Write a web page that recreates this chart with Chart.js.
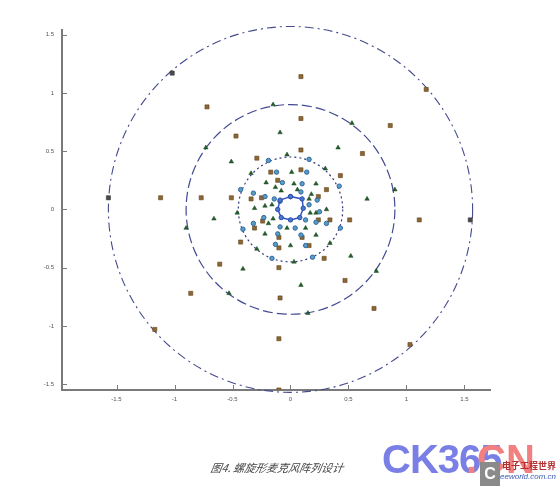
<!DOCTYPE html>
<html><head><meta charset="utf-8">
<script src="https://cdn.jsdelivr.net/npm/chart.js@4"></script>
<style>
html,body{margin:0;padding:0;background:#fff;}
#wrap{position:relative;width:560px;height:491px;overflow:hidden;}
canvas{position:absolute;left:0;top:0;}
.cap{position:absolute;left:211px;top:459px;font-family:"Noto Sans CJK SC",sans-serif;font-style:italic;font-size:11px;color:#444;transform:skewX(-10deg);}
.wm1{position:absolute;left:382px;top:437px;font-family:"Liberation Sans",Arial,sans-serif;font-weight:bold;font-size:40px;color:#7a7fe6;letter-spacing:-1px;}
.wm2{position:absolute;left:466px;top:437px;font-family:"Liberation Sans",Arial,sans-serif;font-weight:bold;font-size:40px;color:#f28080;}
.wm3{position:absolute;left:502px;top:459px;font-family:"Noto Sans CJK SC",serif;font-size:9px;color:#b03030;font-weight:bold;}
.wm4{position:absolute;left:500px;top:472px;font-family:"Liberation Sans",sans-serif;font-style:italic;font-size:8px;color:#3a5ab0;}
.wmlogo{position:absolute;left:480px;top:462px;width:20px;height:24px;background:#8a8a8a;color:#fff;font:bold 16px "Liberation Sans",sans-serif;text-align:center;line-height:24px;}
</style></head>
<body><div id="wrap"><canvas id="c" width="560" height="491"></canvas>
<div class="cap">图4. 螺旋形麦克风阵列设计</div>
<div class="wm1">CK365</div><div class="wm2">.CN</div>
<div class="wmlogo">C</div><div class="wm3">电子工程世界</div><div class="wm4">eeworld.com.cn</div>
</div>
<script>
const xTicks = [-1.5,-1,-0.5,0,0.5,1,1.5];
const yTicks = [-1.5,-1,-0.5,0,0.5,1,1.5];
const ringRadii = [1.57, 0.90, 0.45];

const brownSquares = [
 [0.09,1.14],[-0.72,0.88],[0.86,0.72],[0.09,0.78],[-0.47,0.63],[-1.12,0.10],[-0.77,0.10],
 [-0.61,-0.47],[-0.86,-0.72],[-0.09,-0.76],[0.72,-0.85],[-0.10,-1.11],[0.47,-0.61],[1.11,-0.09],
 [0.09,0.51],[0.62,0.48],[0.43,0.29],[0.31,0.17],[-0.29,0.44],[-0.17,0.32],[0.09,0.34],[-0.11,0.25],
 [-0.51,0.10],[-0.34,0.09],[-0.25,0.10],[0.24,0.11],[0.51,-0.09],[0.34,-0.09],[0.24,-0.09],
 [-0.24,-0.10],[-0.31,-0.16],[-0.43,-0.28],[-0.10,-0.24],[0.10,-0.24],[-0.10,-0.33],[0.16,-0.31],
 [0.29,-0.42],[-0.10,-0.50],
 [1.17,1.03],[-1.17,-1.03],[-0.10,-1.55],[1.03,-1.16]
];
const darkPoints = [[0.09,1.57],[-1.02,1.17],[-1.57,0.10],[1.55,-0.09]];
const greenTriangles = [
 [-0.09,0.66],[0.41,0.53],[-0.51,0.41],[-0.34,0.31],[-0.21,0.23],[0.01,0.32],[0.22,0.22],[0.03,0.22],
 [-0.08,0.16],[-0.13,0.19],[0.06,0.17],[0.18,0.13],[0.16,0.09],[0.66,0.09],[-0.66,-0.08],[-0.31,0.01],
 [-0.22,0.03],[-0.16,0.04],[-0.46,-0.03],[0.31,0.0],[0.22,-0.03],[0.17,-0.03],[-0.15,-0.08],[-0.03,-0.16],
 [0.13,-0.16],[-0.19,-0.12],[-0.22,-0.21],[0.22,-0.22],[0.0,-0.31],[-0.41,-0.51],[0.09,-0.65],[0.52,-0.40],
 [0.34,-0.29],[-0.03,0.47],[0.30,0.35],[-0.29,-0.34],[0.03,-0.45],
 [-0.15,0.90],[0.53,0.74],[-0.73,0.53],[-0.90,-0.16],[-0.53,-0.72],[0.15,-0.89],[0.74,-0.53],[0.90,0.17]
];
const blueCircles = [
 [-0.19,0.42],[0.16,0.43],[-0.43,0.17],[0.42,0.20],[-0.41,-0.17],[0.43,-0.16],[-0.16,-0.42],[0.19,-0.41],
 [-0.12,0.32],[-0.07,0.23],[0.14,0.32],[0.10,0.22],[0.09,0.15],[-0.22,0.11],[-0.32,0.14],[-0.14,0.09],
 [-0.09,0.07],[0.23,0.08],[0.16,0.04],[0.25,-0.02],[0.31,-0.12],[0.22,-0.11],[0.13,-0.09],[-0.23,-0.07],
 [-0.32,-0.12],[-0.09,-0.15],[0.04,-0.16],[0.09,-0.22],[-0.11,-0.21],[0.13,-0.31],[-0.13,-0.30]
];
const innerRing = [
 [0,0.11],[0.10,0.09],[0.11,0.01],[0.08,-0.07],[0,-0.09],[-0.08,-0.07],[-0.11,0],[-0.09,0.08],[0,0.11]
];

const toXY = a => a.map(p => ({x:p[0], y:p[1]}));

const ringPlugin = {
 id:'rings',
 beforeDatasetsDraw(chart){
  const {ctx, scales:{x, y}} = chart;
  const cx = x.getPixelForValue(0), cy = y.getPixelForValue(0);
  const styles = [
   {dash:[9,4,2,4], color:'#444a8c', w:1.1},
   {dash:[10,4], color:'#424a92', w:1.2},
   {dash:[2,3], color:'#30367a', w:1.2}
  ];
  ctx.save();
  ringRadii.forEach((r,i)=>{
   const rx = x.getPixelForValue(r) - cx;
   const ry = cy - y.getPixelForValue(r);
   ctx.beginPath();
   ctx.setLineDash(styles[i].dash);
   ctx.strokeStyle = styles[i].color;
   ctx.lineWidth = styles[i].w;
   ctx.ellipse(cx, cy, rx, ry, 0, 0, Math.PI*2);
   ctx.stroke();
  });
  ctx.restore();
 },
 afterDraw(chart){
  const {ctx, chartArea:a, scales:{x, y}} = chart;
  ctx.save();
  ctx.strokeStyle = '#7a7a7a';
  ctx.lineWidth = 1;
  xTicks.forEach(v=>{ const px = Math.round(x.getPixelForValue(v))+0.5; ctx.beginPath(); ctx.moveTo(px,a.bottom); ctx.lineTo(px,a.bottom-5); ctx.stroke(); });
  yTicks.forEach(v=>{ const py = Math.round(y.getPixelForValue(v))+0.5; ctx.beginPath(); ctx.moveTo(a.left,py); ctx.lineTo(a.left+5,py); ctx.stroke(); });
  ctx.restore();
 }
};

new Chart(document.getElementById('c'), {
 type:'scatter',
 data:{datasets:[
  {data:toXY(innerRing), showLine:true, borderColor:'#3355cc', borderWidth:1.5, pointStyle:'circle', pointRadius:2.2, pointBackgroundColor:'#4a78d0', pointBorderColor:'#2a4aa8', pointBorderWidth:1},
  {data:toXY(blueCircles), pointStyle:'circle', pointRadius:2.2, backgroundColor:'#55a0bc', borderColor:'#3464a8', borderWidth:1},
  {data:toXY(greenTriangles), pointStyle:'triangle', pointRadius:2.6, backgroundColor:'#22602a', borderColor:'#1a4420', borderWidth:0.5},
  {data:toXY(brownSquares), pointStyle:'rect', pointRadius:2.9, backgroundColor:'#8c6634', borderColor:'#634620', borderWidth:0.6},
  {data:toXY(darkPoints), pointStyle:'rect', pointRadius:2.9, backgroundColor:'#4a4a4a', borderColor:'#333', borderWidth:0.6}
 ]},
 options:{
  responsive:false, animation:false,
  layout:{padding:{left:0, top:30, right:70, bottom:0}},
  plugins:{legend:{display:false}, tooltip:{enabled:false}},
  scales:{
   x:{type:'linear', min:-1.97, max:1.72,
      afterBuildTicks(s){ s.ticks = xTicks.map(v=>({value:v})); },
      afterFit(s){ s.height = 101; },
      grid:{display:true, drawOnChartArea:false, drawTicks:false},
      border:{color:'#7a7a7a', width:2},
      ticks:{padding:6, color:'#555', font:{size:6, family:'Liberation Sans'}, callback:v=>String(v)}},
   y:{type:'linear', min:-1.55, max:1.54,
      afterBuildTicks(s){ s.ticks = yTicks.map(v=>({value:v})); },
      afterFit(s){ s.width = 62; },
      grid:{display:true, drawOnChartArea:false, drawTicks:false},
      border:{color:'#7a7a7a', width:2},
      ticks:{padding:8, color:'#555', font:{size:6, family:'Liberation Sans'}, callback:v=>String(v)}}
  }
 },
 plugins:[ringPlugin]
});
</script></body></html>
